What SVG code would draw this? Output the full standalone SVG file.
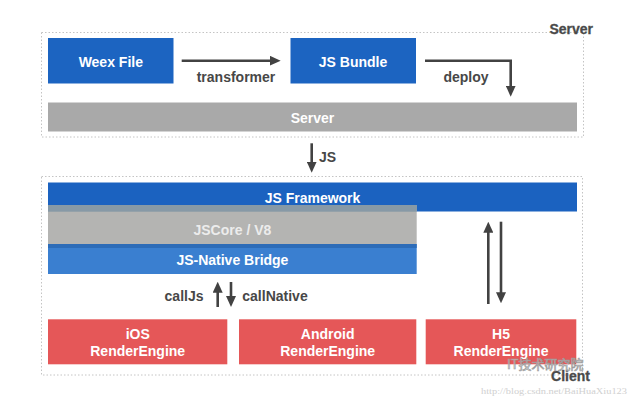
<svg xmlns="http://www.w3.org/2000/svg" width="634" height="401" viewBox="0 0 634 401">
<style>
.t{font-family:"Liberation Sans",Arial,sans-serif;font-weight:bold;font-size:14px}
.m{text-anchor:middle}
.s{text-anchor:start}
.e{text-anchor:end}
.w{fill:#ffffff}
.d{fill:#474747}
.frame{fill:none;stroke:#c4c4c4;stroke-width:1;stroke-dasharray:1.5,2}
.blue{fill:#1c64c1}
.red{fill:#e55758}
.conn{fill:none;stroke:#424242;stroke-width:2.6}
.lbl{font-family:"Liberation Sans",Arial,sans-serif;font-weight:bold;font-size:14px;fill:#4a4a4a;stroke:#4a4a4a;stroke-width:0.3;text-anchor:end}
</style>
<defs>
<marker id="ah" viewBox="0 0 11 10" refX="3" refY="5" markerWidth="11" markerHeight="10" markerUnits="userSpaceOnUse" orient="auto">
<path d="M0,0 L11,5 L0,10 Z" fill="#424242"/>
</marker>
</defs>
<rect width="634" height="401" fill="#ffffff"/>

<g id="server-frame">
<rect class="frame" x="41.5" y="32.5" width="542" height="104.5"/>
<text class="lbl" x="593" y="34">Server</text>
</g>
<g id="client-frame">
<rect class="frame" x="41.5" y="176.5" width="541" height="198.5"/>
<text class="lbl" x="590" y="381">Client</text>
</g>

<g id="weex-file">
<rect class="blue" x="48" y="38" width="125.5" height="45.5"/>
<text class="t m w" x="110.8" y="66.5">Weex File</text>
</g>
<g id="js-bundle">
<rect class="blue" x="290.5" y="38" width="125.5" height="45.5"/>
<text class="t m w" x="353" y="66.5">JS Bundle</text>
</g>
<g id="server">
<rect x="48" y="102.5" width="529" height="29" fill="#a9a9a9"/>
<text class="t m w" x="312.5" y="122.5">Server</text>
</g>

<g id="js-framework">
<rect x="48" y="182.5" width="529" height="29" fill="#1b62c0"/>
<text class="t m w" x="312.5" y="202.5">JS Framework</text>
</g>
<g id="jscore">
<rect x="48" y="205" width="368.7" height="39" fill="#b4b4b2"/>
<rect x="48" y="205" width="368.7" height="6.7" fill="#8799a6"/>
<text class="t m" x="232.4" y="234.5" fill="#ececec">JSCore / V8</text>
</g>
<g id="js-native-bridge">
<rect x="48" y="244" width="368.7" height="30" fill="#3a7fd0"/>
<rect x="48" y="244" width="368.7" height="4" fill="#2d6cb8"/>
<text class="t m w" x="232.4" y="265">JS-Native Bridge</text>
</g>

<g id="ios-render">
<rect class="red" x="48" y="319.3" width="179.3" height="45"/>
<text class="t m w" x="137.7" y="339.3">iOS</text>
<text class="t m w" x="137.7" y="355.5">RenderEngine</text>
</g>
<g id="android-render">
<rect class="red" x="239" y="319.3" width="177.3" height="45"/>
<text class="t m w" x="327.7" y="339.3">Android</text>
<text class="t m w" x="327.7" y="355.5">RenderEngine</text>
</g>
<g id="h5-render">
<rect class="red" x="425.7" y="319.3" width="150.6" height="45"/>
<text class="t m w" x="501" y="339.3">H5</text>
<text class="t m w" x="501" y="355.5">RenderEngine</text>
</g>

<g id="connectors">
<line class="conn" x1="181.7" y1="60.7" x2="272.7" y2="60.7" marker-end="url(#ah)"/>
<text class="t m d" x="236" y="81.7">transformer</text>
<path class="conn" d="M425,60.7 H510.7 V88.7" marker-end="url(#ah)"/>
<text class="t m d" x="466" y="81.7">deploy</text>
<line class="conn" x1="311.7" y1="143.3" x2="311.7" y2="164.7" marker-end="url(#ah)"/>
<text class="t s d" x="319" y="161.7">JS</text>
<line class="conn" x1="217.7" y1="307" x2="217.7" y2="289.7" marker-end="url(#ah)"/>
<line class="conn" x1="231" y1="282" x2="231" y2="299" marker-end="url(#ah)"/>
<text class="t e d" x="203.5" y="300.5">callJs</text>
<text class="t s d" x="242.3" y="300.5">callNative</text>
<line class="conn" x1="488.3" y1="304" x2="488.3" y2="229.7" marker-end="url(#ah)"/>
<line class="conn" x1="501" y1="221.7" x2="501" y2="295.3" marker-end="url(#ah)"/>
</g>

<g id="watermark">
<text x="507" y="369" font-family="'Noto Sans CJK SC',sans-serif" font-size="13" fill="#ffffff" fill-opacity="0.5" stroke="#9a9a9a" stroke-width="0.7">IT技术研究院</text>
<text x="481" y="394" font-family="'Liberation Serif',serif" font-size="9" fill="#d0d0d0" textLength="146" lengthAdjust="spacingAndGlyphs">http://blog.csdn.net/BaiHuaXiu123</text>
</g>
</svg>
